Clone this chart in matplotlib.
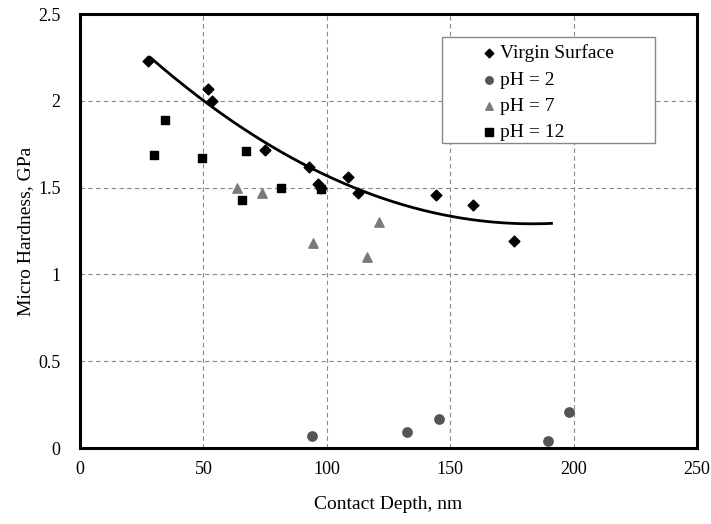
import numpy as np
import matplotlib.pyplot as plt
from matplotlib.patches import Rectangle

plt.rcParams['font.family'] = ['Liberation Serif', 'DejaVu Serif']

# data
virgin_x = [27.7, 51.7, 53.4, 75.0, 92.7, 96.3, 97.5, 108.5, 112.5, 144.2, 159.4, 175.9]
virgin_y = [2.23, 2.07, 2.00, 1.72, 1.62, 1.52, 1.50, 1.56, 1.47, 1.46, 1.40, 1.19]

ph2_x = [93.9, 132.3, 145.6, 189.6, 198.2]
ph2_y = [0.07, 0.09, 0.17, 0.04, 0.21]

ph7_x = [63.5, 73.7, 94.5, 116.2, 121.0]
ph7_y = [1.50, 1.47, 1.18, 1.10, 1.30]

ph12_x = [30.0, 34.6, 49.4, 67.4, 65.5, 81.3, 97.5]
ph12_y = [1.69, 1.89, 1.67, 1.71, 1.43, 1.50, 1.49]

# trendline (2nd order polynomial on the virgin data)
coef = np.polyfit(virgin_x, virgin_y, 2)
tx = np.linspace(28.5, 191, 200)
ty = np.polyval(coef, tx)

fig = plt.figure(figsize=(7.11, 5.24), dpi=100)
ax = fig.add_axes([0.1125, 0.145, 0.868, 0.828])

ax.plot(tx, ty, color="black", lw=2.0, zorder=2)
ax.scatter(virgin_x, virgin_y, marker="D", s=30, color="black", label="Virgin Surface", zorder=3)
ax.scatter(ph2_x, ph2_y, marker="o", s=45, color="#555555", label="pH = 2", zorder=3)
ax.scatter(ph7_x, ph7_y, marker="^", s=45, color="#7a7a7a", label="pH = 7", zorder=3)
ax.scatter(ph12_x, ph12_y, marker="s", s=40, color="black", label="pH = 12", zorder=3)

ax.set_xlim(0, 250)
ax.set_ylim(0, 2.5)
ax.set_xticks([0, 50, 100, 150, 200, 250])
ax.set_yticks([0, 0.5, 1, 1.5, 2, 2.5])
ax.set_yticklabels(["0", "0.5", "1", "1.5", "2", "2.5"])
ax.tick_params(axis="x", labelsize=13, length=0, pad=9)
ax.tick_params(axis="y", labelsize=13, length=0, pad=14)
ax.grid(True, linestyle=(0, (4, 3)), color="#888888", lw=0.8)
for s in ax.spines.values():
    s.set_linewidth(2.2)

ax.set_xlabel("Contact Depth, nm", fontsize=14, labelpad=13)
ax.set_ylabel("Micro Hardness, GPa", fontsize=14, labelpad=3)

# legend box drawn separately, wider than the entries
ax.add_patch(Rectangle((0.587, 0.703), 0.345, 0.244, transform=ax.transAxes,
                       facecolor="white", edgecolor="#888888", lw=1.0, zorder=4))
leg = ax.legend(loc="upper left", bbox_to_anchor=(0.634, 0.948), fontsize=14,
                frameon=False, handletextpad=0.1, handlelength=1.0, markerscale=0.8,
                borderpad=0.4, labelspacing=0.45, borderaxespad=0)
leg.set_zorder(5)

fig.savefig("out.png", dpi=100)
